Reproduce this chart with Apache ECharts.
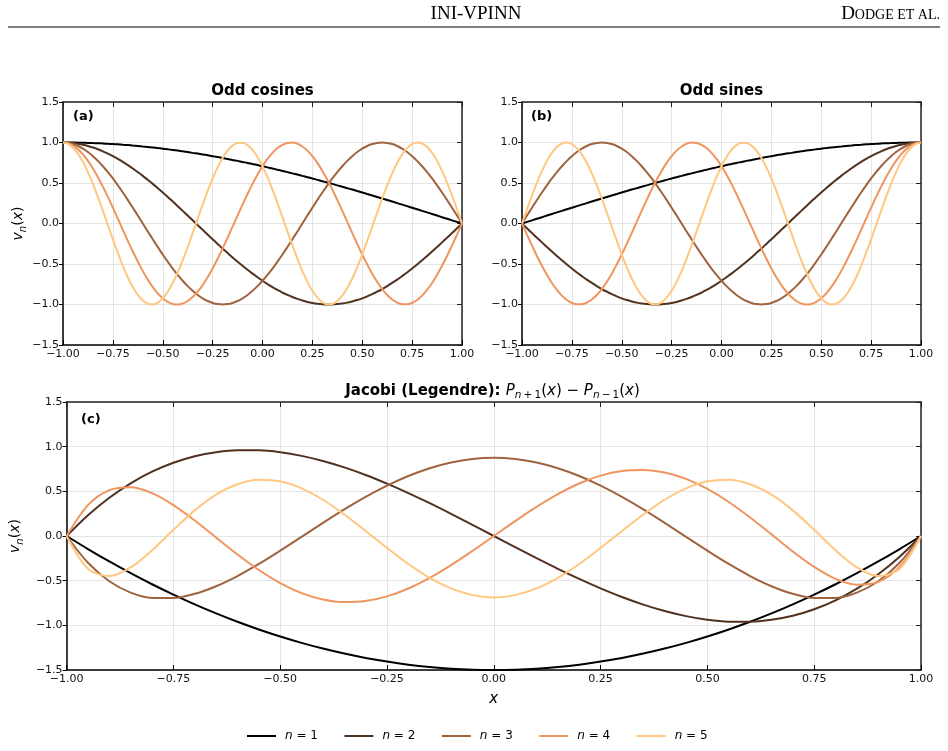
<!DOCTYPE html>
<html>
<head>
<meta charset="utf-8">
<title>INI-VPINN test functions</title>
<script src="https://cdn.jsdelivr.net/npm/echarts@6/dist/echarts.min.js"></script>
<style>
  html, body { margin: 0; padding: 0; background: #fff; }
  #chart { width: 948px; height: 751px; }
</style>
</head>
<body>
<div id="chart"></div>
<script>
// sample positions on [-1, 1]: fine grid for (a)/(b), coarse grid for (c)
const xsFine = [-1, -0.975, -0.95, -0.925, -0.9, -0.875, -0.85, -0.825, -0.8, -0.775,
  -0.75, -0.725, -0.7, -0.675, -0.65, -0.625, -0.6, -0.575, -0.55, -0.525,
  -0.5, -0.475, -0.45, -0.425, -0.4, -0.375, -0.35, -0.325, -0.3, -0.275,
  -0.25, -0.225, -0.2, -0.175, -0.15, -0.125, -0.1, -0.075, -0.05, -0.025,
  0, 0.025, 0.05, 0.075, 0.1, 0.125, 0.15, 0.175, 0.2, 0.225,
  0.25, 0.275, 0.3, 0.325, 0.35, 0.375, 0.4, 0.425, 0.45, 0.475,
  0.5, 0.525, 0.55, 0.575, 0.6, 0.625, 0.65, 0.675, 0.7, 0.725,
  0.75, 0.775, 0.8, 0.825, 0.85, 0.875, 0.9, 0.925, 0.95, 0.975,
  1]
const xsCoarse = [-1, -0.95, -0.9, -0.85, -0.8, -0.75, -0.7, -0.65, -0.6, -0.55, -0.5, -0.45, -0.4, -0.35, -0.3, -0.25, -0.2, -0.15, -0.1, -0.05,
  0, 0.05, 0.1, 0.15, 0.2, 0.25, 0.3, 0.35, 0.4, 0.45, 0.5, 0.55, 0.6, 0.65, 0.7, 0.75, 0.8, 0.85, 0.9, 0.95, 1]

// (a) odd cosines
const cosN1 = [1.000, 1.000, 0.999, 0.998, 0.997, 0.995, 0.993, 0.991, 0.988, 0.984,
  0.981, 0.977, 0.972, 0.968, 0.962, 0.957, 0.951, 0.945, 0.938, 0.931,
  0.924, 0.916, 0.908, 0.900, 0.891, 0.882, 0.872, 0.863, 0.853, 0.842,
  0.831, 0.820, 0.809, 0.797, 0.785, 0.773, 0.760, 0.748, 0.734, 0.721,
  0.707, 0.693, 0.679, 0.664, 0.649, 0.634, 0.619, 0.604, 0.588, 0.572,
  0.556, 0.539, 0.522, 0.506, 0.489, 0.471, 0.454, 0.436, 0.419, 0.401,
  0.383, 0.364, 0.346, 0.328, 0.309, 0.290, 0.271, 0.252, 0.233, 0.214,
  0.195, 0.176, 0.156, 0.137, 0.118, 0.098, 0.078, 0.059, 0.039, 0.020,
  0.000]
const cosN2 = [1.000, 0.998, 0.993, 0.984, 0.972, 0.957, 0.938, 0.916, 0.891, 0.863,
  0.831, 0.797, 0.760, 0.721, 0.679, 0.634, 0.588, 0.539, 0.489, 0.436,
  0.383, 0.328, 0.271, 0.214, 0.156, 0.098, 0.039, -0.020, -0.078, -0.137,
  -0.195, -0.252, -0.309, -0.364, -0.419, -0.471, -0.522, -0.572, -0.619, -0.664,
  -0.707, -0.748, -0.785, -0.820, -0.853, -0.882, -0.908, -0.931, -0.951, -0.968,
  -0.981, -0.991, -0.997, -1.000, -0.999, -0.995, -0.988, -0.977, -0.962, -0.945,
  -0.924, -0.900, -0.872, -0.842, -0.809, -0.773, -0.734, -0.693, -0.649, -0.604,
  -0.556, -0.506, -0.454, -0.401, -0.346, -0.290, -0.233, -0.176, -0.118, -0.059,
  0.000]
const cosN3 = [1.000, 0.995, 0.981, 0.957, 0.924, 0.882, 0.831, 0.773, 0.707, 0.634,
  0.556, 0.471, 0.383, 0.290, 0.195, 0.098, 0.000, -0.098, -0.195, -0.290,
  -0.383, -0.471, -0.556, -0.634, -0.707, -0.773, -0.831, -0.882, -0.924, -0.957,
  -0.981, -0.995, -1.000, -0.995, -0.981, -0.957, -0.924, -0.882, -0.831, -0.773,
  -0.707, -0.634, -0.556, -0.471, -0.383, -0.290, -0.195, -0.098, 0.000, 0.098,
  0.195, 0.290, 0.383, 0.471, 0.556, 0.634, 0.707, 0.773, 0.831, 0.882,
  0.924, 0.957, 0.981, 0.995, 1.000, 0.995, 0.981, 0.957, 0.924, 0.882,
  0.831, 0.773, 0.707, 0.634, 0.556, 0.471, 0.383, 0.290, 0.195, 0.098,
  0.000]
const cosN4 = [1.000, 0.991, 0.962, 0.916, 0.853, 0.773, 0.679, 0.572, 0.454, 0.328,
  0.195, 0.059, -0.078, -0.214, -0.346, -0.471, -0.588, -0.693, -0.785, -0.863,
  -0.924, -0.968, -0.993, -1.000, -0.988, -0.957, -0.908, -0.842, -0.760, -0.664,
  -0.556, -0.436, -0.309, -0.176, -0.039, 0.098, 0.233, 0.364, 0.489, 0.604,
  0.707, 0.797, 0.872, 0.931, 0.972, 0.995, 0.999, 0.984, 0.951, 0.900,
  0.831, 0.748, 0.649, 0.539, 0.419, 0.290, 0.156, 0.020, -0.118, -0.252,
  -0.383, -0.506, -0.619, -0.721, -0.809, -0.882, -0.938, -0.977, -0.997, -0.998,
  -0.981, -0.945, -0.891, -0.820, -0.734, -0.634, -0.522, -0.401, -0.271, -0.137,
  0.000]
const cosN5 = [1.000, 0.984, 0.938, 0.863, 0.760, 0.634, 0.489, 0.328, 0.156, -0.020,
  -0.195, -0.364, -0.522, -0.664, -0.785, -0.882, -0.951, -0.991, -0.999, -0.977,
  -0.924, -0.842, -0.734, -0.604, -0.454, -0.290, -0.118, 0.059, 0.233, 0.401,
  0.556, 0.693, 0.809, 0.900, 0.962, 0.995, 0.997, 0.968, 0.908, 0.820,
  0.707, 0.572, 0.419, 0.252, 0.078, -0.098, -0.271, -0.436, -0.588, -0.721,
  -0.831, -0.916, -0.972, -0.998, -0.993, -0.957, -0.891, -0.797, -0.679, -0.539,
  -0.383, -0.214, -0.039, 0.137, 0.309, 0.471, 0.619, 0.748, 0.853, 0.931,
  0.981, 1.000, 0.988, 0.945, 0.872, 0.773, 0.649, 0.506, 0.346, 0.176,
  0.000]

// (b) odd sines
const sinN1 = [0.000, 0.020, 0.039, 0.059, 0.078, 0.098, 0.118, 0.137, 0.156, 0.176,
  0.195, 0.214, 0.233, 0.252, 0.271, 0.290, 0.309, 0.328, 0.346, 0.364,
  0.383, 0.401, 0.419, 0.436, 0.454, 0.471, 0.489, 0.506, 0.522, 0.539,
  0.556, 0.572, 0.588, 0.604, 0.619, 0.634, 0.649, 0.664, 0.679, 0.693,
  0.707, 0.721, 0.734, 0.748, 0.760, 0.773, 0.785, 0.797, 0.809, 0.820,
  0.831, 0.842, 0.853, 0.863, 0.872, 0.882, 0.891, 0.900, 0.908, 0.916,
  0.924, 0.931, 0.938, 0.945, 0.951, 0.957, 0.962, 0.968, 0.972, 0.977,
  0.981, 0.984, 0.988, 0.991, 0.993, 0.995, 0.997, 0.998, 0.999, 1.000,
  1.000]
const sinN2 = [0.000, -0.059, -0.118, -0.176, -0.233, -0.290, -0.346, -0.401, -0.454, -0.506,
  -0.556, -0.604, -0.649, -0.693, -0.734, -0.773, -0.809, -0.842, -0.872, -0.900,
  -0.924, -0.945, -0.962, -0.977, -0.988, -0.995, -0.999, -1.000, -0.997, -0.991,
  -0.981, -0.968, -0.951, -0.931, -0.908, -0.882, -0.853, -0.820, -0.785, -0.748,
  -0.707, -0.664, -0.619, -0.572, -0.522, -0.471, -0.419, -0.364, -0.309, -0.252,
  -0.195, -0.137, -0.078, -0.020, 0.039, 0.098, 0.156, 0.214, 0.271, 0.328,
  0.383, 0.436, 0.489, 0.539, 0.588, 0.634, 0.679, 0.721, 0.760, 0.797,
  0.831, 0.863, 0.891, 0.916, 0.938, 0.957, 0.972, 0.984, 0.993, 0.998,
  1.000]
const sinN3 = [0.000, 0.098, 0.195, 0.290, 0.383, 0.471, 0.556, 0.634, 0.707, 0.773,
  0.831, 0.882, 0.924, 0.957, 0.981, 0.995, 1.000, 0.995, 0.981, 0.957,
  0.924, 0.882, 0.831, 0.773, 0.707, 0.634, 0.556, 0.471, 0.383, 0.290,
  0.195, 0.098, 0.000, -0.098, -0.195, -0.290, -0.383, -0.471, -0.556, -0.634,
  -0.707, -0.773, -0.831, -0.882, -0.924, -0.957, -0.981, -0.995, -1.000, -0.995,
  -0.981, -0.957, -0.924, -0.882, -0.831, -0.773, -0.707, -0.634, -0.556, -0.471,
  -0.383, -0.290, -0.195, -0.098, 0.000, 0.098, 0.195, 0.290, 0.383, 0.471,
  0.556, 0.634, 0.707, 0.773, 0.831, 0.882, 0.924, 0.957, 0.981, 0.995,
  1.000]
const sinN4 = [0.000, -0.137, -0.271, -0.401, -0.522, -0.634, -0.734, -0.820, -0.891, -0.945,
  -0.981, -0.998, -0.997, -0.977, -0.938, -0.882, -0.809, -0.721, -0.619, -0.506,
  -0.383, -0.252, -0.118, 0.020, 0.156, 0.290, 0.419, 0.539, 0.649, 0.748,
  0.831, 0.900, 0.951, 0.984, 0.999, 0.995, 0.972, 0.931, 0.872, 0.797,
  0.707, 0.604, 0.489, 0.364, 0.233, 0.098, -0.039, -0.176, -0.309, -0.436,
  -0.556, -0.664, -0.760, -0.842, -0.908, -0.957, -0.988, -1.000, -0.993, -0.968,
  -0.924, -0.863, -0.785, -0.693, -0.588, -0.471, -0.346, -0.214, -0.078, 0.059,
  0.195, 0.328, 0.454, 0.572, 0.679, 0.773, 0.853, 0.916, 0.962, 0.991,
  1.000]
const sinN5 = [0.000, 0.176, 0.346, 0.506, 0.649, 0.773, 0.872, 0.945, 0.988, 1.000,
  0.981, 0.931, 0.853, 0.748, 0.619, 0.471, 0.309, 0.137, -0.039, -0.214,
  -0.383, -0.539, -0.679, -0.797, -0.891, -0.957, -0.993, -0.998, -0.972, -0.916,
  -0.831, -0.721, -0.588, -0.436, -0.271, -0.098, 0.078, 0.252, 0.419, 0.572,
  0.707, 0.820, 0.908, 0.968, 0.997, 0.995, 0.962, 0.900, 0.809, 0.693,
  0.556, 0.401, 0.233, 0.059, -0.118, -0.290, -0.454, -0.604, -0.734, -0.842,
  -0.924, -0.977, -0.999, -0.991, -0.951, -0.882, -0.785, -0.664, -0.522, -0.364,
  -0.195, -0.020, 0.156, 0.328, 0.489, 0.634, 0.760, 0.863, 0.938, 0.984,
  1.000]

// (c) Jacobi (Legendre) P_{n+1} - P_{n-1}
const jacN1 = [0.000, -0.146, -0.285, -0.416, -0.540, -0.656, -0.765, -0.866, -0.960, -1.046, -1.125, -1.196, -1.260, -1.316, -1.365, -1.406, -1.440, -1.466, -1.485, -1.496, -1.500,
  -1.496, -1.485, -1.466, -1.440, -1.406, -1.365, -1.316, -1.260, -1.196, -1.125, -1.046, -0.960, -0.866, -0.765, -0.656, -0.540, -0.416, -0.285, -0.146, 0.000]
const jacN2 = [0.000, 0.232, 0.428, 0.590, 0.720, 0.820, 0.893, 0.938, 0.960, 0.959, 0.938, 0.897, 0.840, 0.768, 0.683, 0.586, 0.480, 0.367, 0.248, 0.125, 0.000,
  -0.125, -0.248, -0.367, -0.480, -0.586, -0.683, -0.768, -0.840, -0.897, -0.938, -0.959, -0.960, -0.938, -0.893, -0.820, -0.720, -0.590, -0.428, -0.232, 0.000]
const jacN3 = [0.000, -0.300, -0.507, -0.634, -0.693, -0.694, -0.647, -0.562, -0.448, -0.313, -0.164, -0.009, 0.147, 0.298, 0.438, 0.564, 0.672, 0.759, 0.823, 0.862, 0.875,
  0.862, 0.823, 0.759, 0.672, 0.564, 0.438, 0.298, 0.147, -0.009, -0.164, -0.313, -0.448, -0.562, -0.647, -0.694, -0.693, -0.634, -0.507, -0.300, 0.000]
const jacN4 = [0.000, 0.346, 0.514, 0.546, 0.480, 0.346, 0.173, -0.018, -0.207, -0.381, -0.527, -0.639, -0.711, -0.740, -0.728, -0.676, -0.588, -0.469, -0.326, -0.167, 0.000,
  0.167, 0.326, 0.469, 0.588, 0.676, 0.728, 0.740, 0.711, 0.639, 0.527, 0.381, 0.207, 0.018, -0.173, -0.346, -0.480, -0.546, -0.514, -0.346, 0.000]
const jacN5 = [0.000, -0.367, -0.449, -0.352, -0.159, 0.069, 0.287, 0.463, 0.580, 0.630, 0.612, 0.534, 0.406, 0.241, 0.056, -0.133, -0.313, -0.468, -0.587, -0.662, -0.688,
  -0.662, -0.587, -0.468, -0.313, -0.133, 0.056, 0.241, 0.406, 0.534, 0.612, 0.630, 0.580, 0.463, 0.287, 0.069, -0.159, -0.352, -0.449, -0.367, 0.000]

const names = ['n = 1', 'n = 2', 'n = 3', 'n = 4', 'n = 5']
const xTicks = [-1, -0.75, -0.5, -0.25, 0, 0.25, 0.5, 0.75, 1]
const yTicks = [-1.5, -1, -0.5, 0, 0.5, 1, 1.5]

// copper colormap
const colors = ['#000000', '#503220', '#9f643f', '#ef955f', '#ffc77f']

const panels = [
  { xs: xsFine, curves: [cosN1, cosN2, cosN3, cosN4, cosN5] },
  { xs: xsFine, curves: [sinN1, sinN2, sinN3, sinN4, sinN5] },
  { xs: xsCoarse, curves: [jacN1, jacN2, jacN3, jacN4, jacN5] }
]

const FONT = "'DejaVu Sans', sans-serif"

const grids = [
  { left: 63, top: 102, width: 399, height: 243 },
  { left: 522, top: 102, width: 399, height: 243 },
  { left: 63, top: 402, width: 858, height: 268 }
]

const mathRich = {
  i: { fontFamily: FONT, fontStyle: 'italic', fontSize: 14, lineHeight: 20, color: '#000' },
  r: { fontFamily: FONT, fontSize: 14, lineHeight: 20, color: '#000' },
  s: { fontFamily: FONT, fontStyle: 'italic', fontSize: 10, lineHeight: 10, verticalAlign: 'bottom', color: '#000' }
}

const xAxis = []
const yAxis = []
grids.forEach((g, gi) => {
  xAxis.push({
    gridIndex: gi, type: 'value', position: 'bottom',
    min: xTicks[0], max: xTicks[xTicks.length - 1], interval: 0.25,
    axisLine: { onZero: false, lineStyle: { color: '#000', width: 1.5 } },
    axisTick: { inside: true, length: 5, lineStyle: { color: '#000', width: 1 } },
    axisLabel: { fontFamily: FONT, fontSize: 11, color: '#111', margin: 4, formatter: v => (v < 0 ? '\u2212' : '') + Math.abs(v).toFixed(2) },
    splitLine: { show: true, lineStyle: { color: '#e4e4e4', width: 1 } },
    name: gi === 2 ? 'x' : '',
    nameLocation: 'middle', nameGap: 22,
    nameTextStyle: { fontFamily: FONT, fontStyle: 'italic', fontSize: 15, color: '#000' }
  })
  xAxis.push({
    gridIndex: gi, type: 'value', position: 'top',
    min: xTicks[0], max: xTicks[xTicks.length - 1], interval: 0.25,
    axisLine: { onZero: false, lineStyle: { color: '#222', width: 1.5 } },
    axisTick: { inside: true, length: 5, lineStyle: { color: '#222', width: 1 } },
    axisLabel: { show: false },
    splitLine: { show: false }
  })
  yAxis.push({
    gridIndex: gi, type: 'value', position: 'left',
    min: yTicks[0], max: yTicks[yTicks.length - 1], interval: 0.5,
    axisLine: { onZero: false, lineStyle: { color: '#000', width: 1.5 } },
    axisTick: { inside: false, length: 4, lineStyle: { color: '#000', width: 1 } },
    axisLabel: { fontFamily: FONT, fontSize: 11, color: '#111', margin: 4, formatter: v => (v < 0 ? '\u2212' : '') + Math.abs(v).toFixed(1) },
    splitLine: { show: true, lineStyle: { color: '#e4e4e4', width: 1 } },
    name: gi === 1 ? '' : '{i|v}{s|n}{r|(}{i|x}{r|)}',
    nameLocation: 'middle', nameGap: 34,
    nameTextStyle: { rich: mathRich }
  })
  yAxis.push({
    gridIndex: gi, type: 'value', position: 'right',
    min: yTicks[0], max: yTicks[yTicks.length - 1], interval: 0.5,
    axisLine: { onZero: false, lineStyle: { color: '#222', width: 1.5 } },
    axisTick: { inside: true, length: 5, lineStyle: { color: '#222', width: 1 } },
    axisLabel: { show: false },
    splitLine: { show: false }
  })
})

const series = []
panels.forEach((p, gi) => {
  p.curves.forEach((ys, k) => {
    series.push({
      name: names[k],
      type: 'line',
      xAxisIndex: gi * 2,
      yAxisIndex: gi * 2,
      data: p.xs.map((x, i) => [x, ys[i]]),
      smooth: 0.3,
      showSymbol: false,
      symbol: 'none',
      silent: true,
      color: colors[k],
      lineStyle: { color: colors[k], width: 2 },
      z: 3 + k
    })
  })
})

const titleStyle = { fontFamily: FONT, fontWeight: 'bold', fontSize: 15, fill: '#000' }
const labelStyle = { fontFamily: FONT, fontWeight: 'bold', fontSize: 13, fill: '#000' }

const graphic = [
  // running header
  { type: 'text', x: 476, y: 14, style: { text: 'INI-VPINN', fontFamily: "'Liberation Serif', 'DejaVu Serif', serif", fontSize: 19, fill: '#000', align: 'center', verticalAlign: 'middle' } },
  { type: 'text', x: 940, y: 14, style: {
      text: '{L|D}{S|ODGE ET AL.}', align: 'right', verticalAlign: 'middle',
      rich: {
        L: { fontFamily: "'Liberation Serif', serif", fontSize: 19, lineHeight: 20, fill: '#000' },
        S: { fontFamily: "'Liberation Serif', serif", fontSize: 14, lineHeight: 17, padding: [3, 0, 0, 0], fill: '#000' }
      } } },
  { type: 'line', shape: { x1: 8, y1: 27, x2: 940, y2: 27 }, style: { stroke: '#000', lineWidth: 1 } },
  // panel titles
  { type: 'text', x: 262.5, y: 91, style: Object.assign({ text: 'Odd cosines', align: 'center', verticalAlign: 'middle' }, titleStyle) },
  { type: 'text', x: 721.5, y: 91, style: Object.assign({ text: 'Odd sines', align: 'center', verticalAlign: 'middle' }, titleStyle) },
  { type: 'text', x: 492.5, y: 391, style: {
      text: '{b|Jacobi (Legendre): }{i|P}{s|n}{t|\u2009+\u20091}{r|(}{i|x}{r|) \u2212 }{i|P}{s|n}{t|\u2009\u2212\u20091}{r|(}{i|x}{r|)}',
      align: 'center', verticalAlign: 'middle',
      rich: {
        b: { fontFamily: FONT, fontWeight: 'bold', fontSize: 15, lineHeight: 20, fill: '#000' },
        i: { fontFamily: FONT, fontStyle: 'italic', fontSize: 15, lineHeight: 20, fill: '#000' },
        r: { fontFamily: FONT, fontSize: 15, lineHeight: 20, fill: '#000' },
        s: { fontFamily: FONT, fontStyle: 'italic', fontSize: 10.5, lineHeight: 10, verticalAlign: 'bottom', fill: '#000' },
        t: { fontFamily: FONT, fontSize: 10.5, lineHeight: 10, verticalAlign: 'bottom', fill: '#000' }
      } } },
  // panel letters
  { type: 'text', x: 73, y: 117, style: Object.assign({ text: '(a)', align: 'left', verticalAlign: 'middle' }, labelStyle) },
  { type: 'text', x: 531, y: 117, style: Object.assign({ text: '(b)', align: 'left', verticalAlign: 'middle' }, labelStyle) },
  { type: 'text', x: 81, y: 420, style: Object.assign({ text: '(c)', align: 'left', verticalAlign: 'middle' }, labelStyle) }
]

const chart = echarts.init(document.getElementById('chart'), null, { renderer: 'canvas' })
chart.setOption({
  animation: false,
  backgroundColor: '#fff',
  grid: grids.map(g => Object.assign({ containLabel: false }, g)),
  xAxis,
  yAxis,
  series,
  legend: {
    data: names,
    left: 247,
    top: 730,
    padding: 0,
    icon: 'rect',
    itemWidth: 29,
    itemHeight: 2,
    itemGap: 26.5,
    formatter: name => '{i|n}{r|' + name.slice(1) + '}',
    textStyle: {
      padding: [0, 0, 0, 4],
      rich: {
        i: { fontFamily: FONT, fontStyle: 'italic', fontSize: 12, color: '#000' },
        r: { fontFamily: FONT, fontSize: 12, color: '#000' }
      }
    }
  },
  graphic
})
</script>
</body>
</html>
